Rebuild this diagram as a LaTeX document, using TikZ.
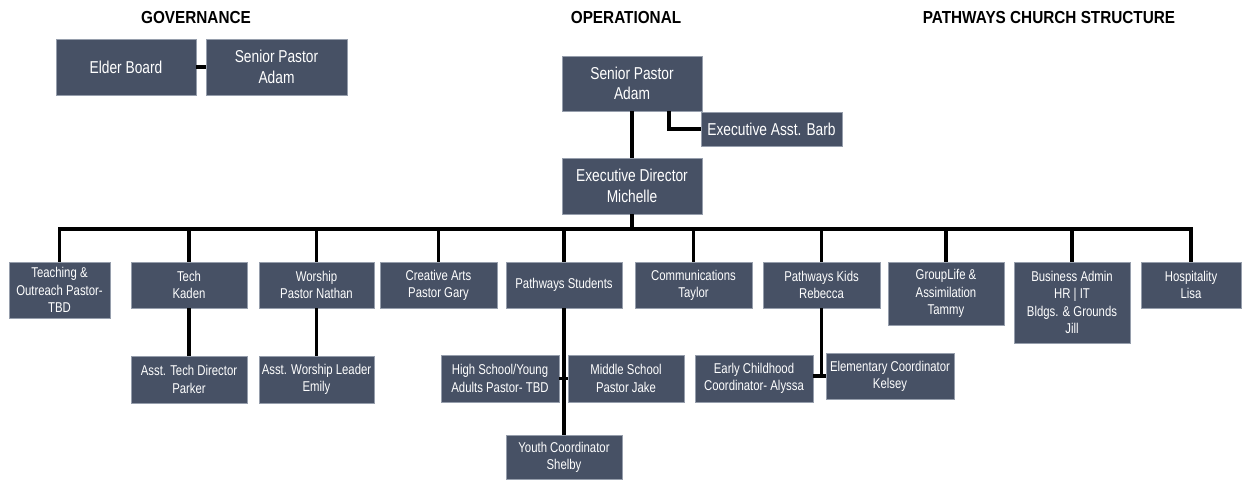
\documentclass[tikz,border=0pt]{standalone}
\usepackage{fontspec}
\setmainfont{Liberation Sans}[FakeStretch=0.8]
\newfontfamily\titlefont{Liberation Sans}[FakeStretch=0.88]
\usetikzlibrary{positioning}
\definecolor{boxfill}{RGB}{71,81,101}
\definecolor{boxedge}{RGB}{150,158,172}
\tikzset{
  orgbox/.style={fill=boxfill,draw=boxedge,line width=0.6pt,text=white,align=center,inner sep=1pt},
  bigtxt/.style={font=\fontsize{17.2}{20.5}\selectfont},
  smalltxt/.style={font=\fontsize{14.2}{17.2}\selectfont},
  title/.style={font=\titlefont\fontsize{17.4}{20}\selectfont\bfseries},
  link/.style={line width=3.4pt,draw=black}
}
\newcommand{\bx}[7]{\node[orgbox,#7,minimum width=#4-#2,minimum height=#5-#3] (#1) at ({(#2+#4)/2},{(#3+#5)/2}) {#6};}
\begin{document}
\begin{tikzpicture}[x=1pt,y=-1pt]
\useasboundingbox (0,0) rectangle (1246,479);
% titles
\node[title] (tg) at (196,18) {GOVERNANCE};
\node[title] (to) at (626,18) {OPERATIONAL};
\node[title] (tp) at (1049,18) {PATHWAYS CHURCH STRUCTURE};
% governance
\bx{eb}{56}{39}{196}{95}{Elder Board}{bigtxt}
\bx{spg}{206}{39}{347}{95}{Senior Pastor\\Adam}{bigtxt}
\draw[link] (eb.east) -- (spg.west);
% operational top
\bx{sp}{562}{56}{702}{111}{Senior Pastor\\Adam}{bigtxt}
\bx{ea}{701}{112}{842}{146}{Executive Asst. Barb}{bigtxt}
\bx{ed}{562}{158}{702}{214}{Executive Director\\Michelle}{bigtxt}
\coordinate (eaj) at (669,111);
\draw[link] (eaj) |- (ea.west);
\draw[link] (sp.south) -- (ed.north);
% bus
\coordinate (busL) at (59.5,229);
\coordinate (busR) at (1191,229);
\draw[link] (ed.south) -- (ed.south |- busL);
\draw[link,line cap=rect] (busL) -- (busR);
% row
\bx{tea}{9}{262}{110}{318}{Teaching \&\\Outreach Pastor-\\TBD}{smalltxt}
\bx{tec}{131}{262}{247}{308}{Tech\\Kaden}{smalltxt}
\bx{wor}{259}{262}{374}{308}{Worship\\Pastor Nathan}{smalltxt}
\bx{cre}{380}{262}{497}{308}{Creative Arts\\Pastor Gary}{smalltxt}
\bx{pst}{506}{262}{622}{308}{Pathways Students}{smalltxt}
\bx{com}{635}{262}{752}{308}{Communications\\Taylor}{smalltxt}
\bx{pk}{763}{262}{880}{308}{Pathways Kids\\Rebecca}{smalltxt}
\bx{grp}{888}{262}{1004}{325}{GroupLife \&\\Assimilation\\Tammy}{smalltxt}
\bx{bus}{1014}{262}{1130}{343}{Business Admin\\HR | IT\\Bldgs. \& Grounds\\Jill}{smalltxt}
\bx{hos}{1141}{262}{1241}{308}{Hospitality\\Lisa}{smalltxt}
\foreach \n in {tea,tec,wor,cre,pst,com,pk,grp,bus,hos}{
  \draw[link] (\n.north) -- (\n.north |- busL);
}
% second level
\bx{atd}{131}{356}{247}{403}{Asst. Tech Director\\Parker}{smalltxt}
\bx{awl}{259}{356}{374}{403}{Asst. Worship Leader\\Emily}{smalltxt}
\draw[link] (tec.south) -- (atd.north);
\draw[link] (wor.south) -- (awl.north);
\bx{hs}{441}{355}{559}{402}{High School/Young\\Adults Pastor- TBD}{smalltxt}
\bx{ms}{568}{355}{684}{402}{Middle School\\Pastor Jake}{smalltxt}
\bx{yc}{506}{435}{622}{479}{Youth Coordinator\\Shelby}{smalltxt}
\draw[link] (pst.south) -- (yc.north);
\draw[link] (hs.east) -- (ms.west);
\bx{ecc}{695}{355}{813}{402}{Early Childhood\\Coordinator- Alyssa}{smalltxt}
\bx{elc}{826}{353}{954}{399}{Elementary Coordinator\\Kelsey}{smalltxt}
\draw[link] (pk.south) -- (pk.south |- elc.west);
\draw[link] (ecc.east |- elc.west) -- (elc.west);
\end{tikzpicture}
\end{document}
